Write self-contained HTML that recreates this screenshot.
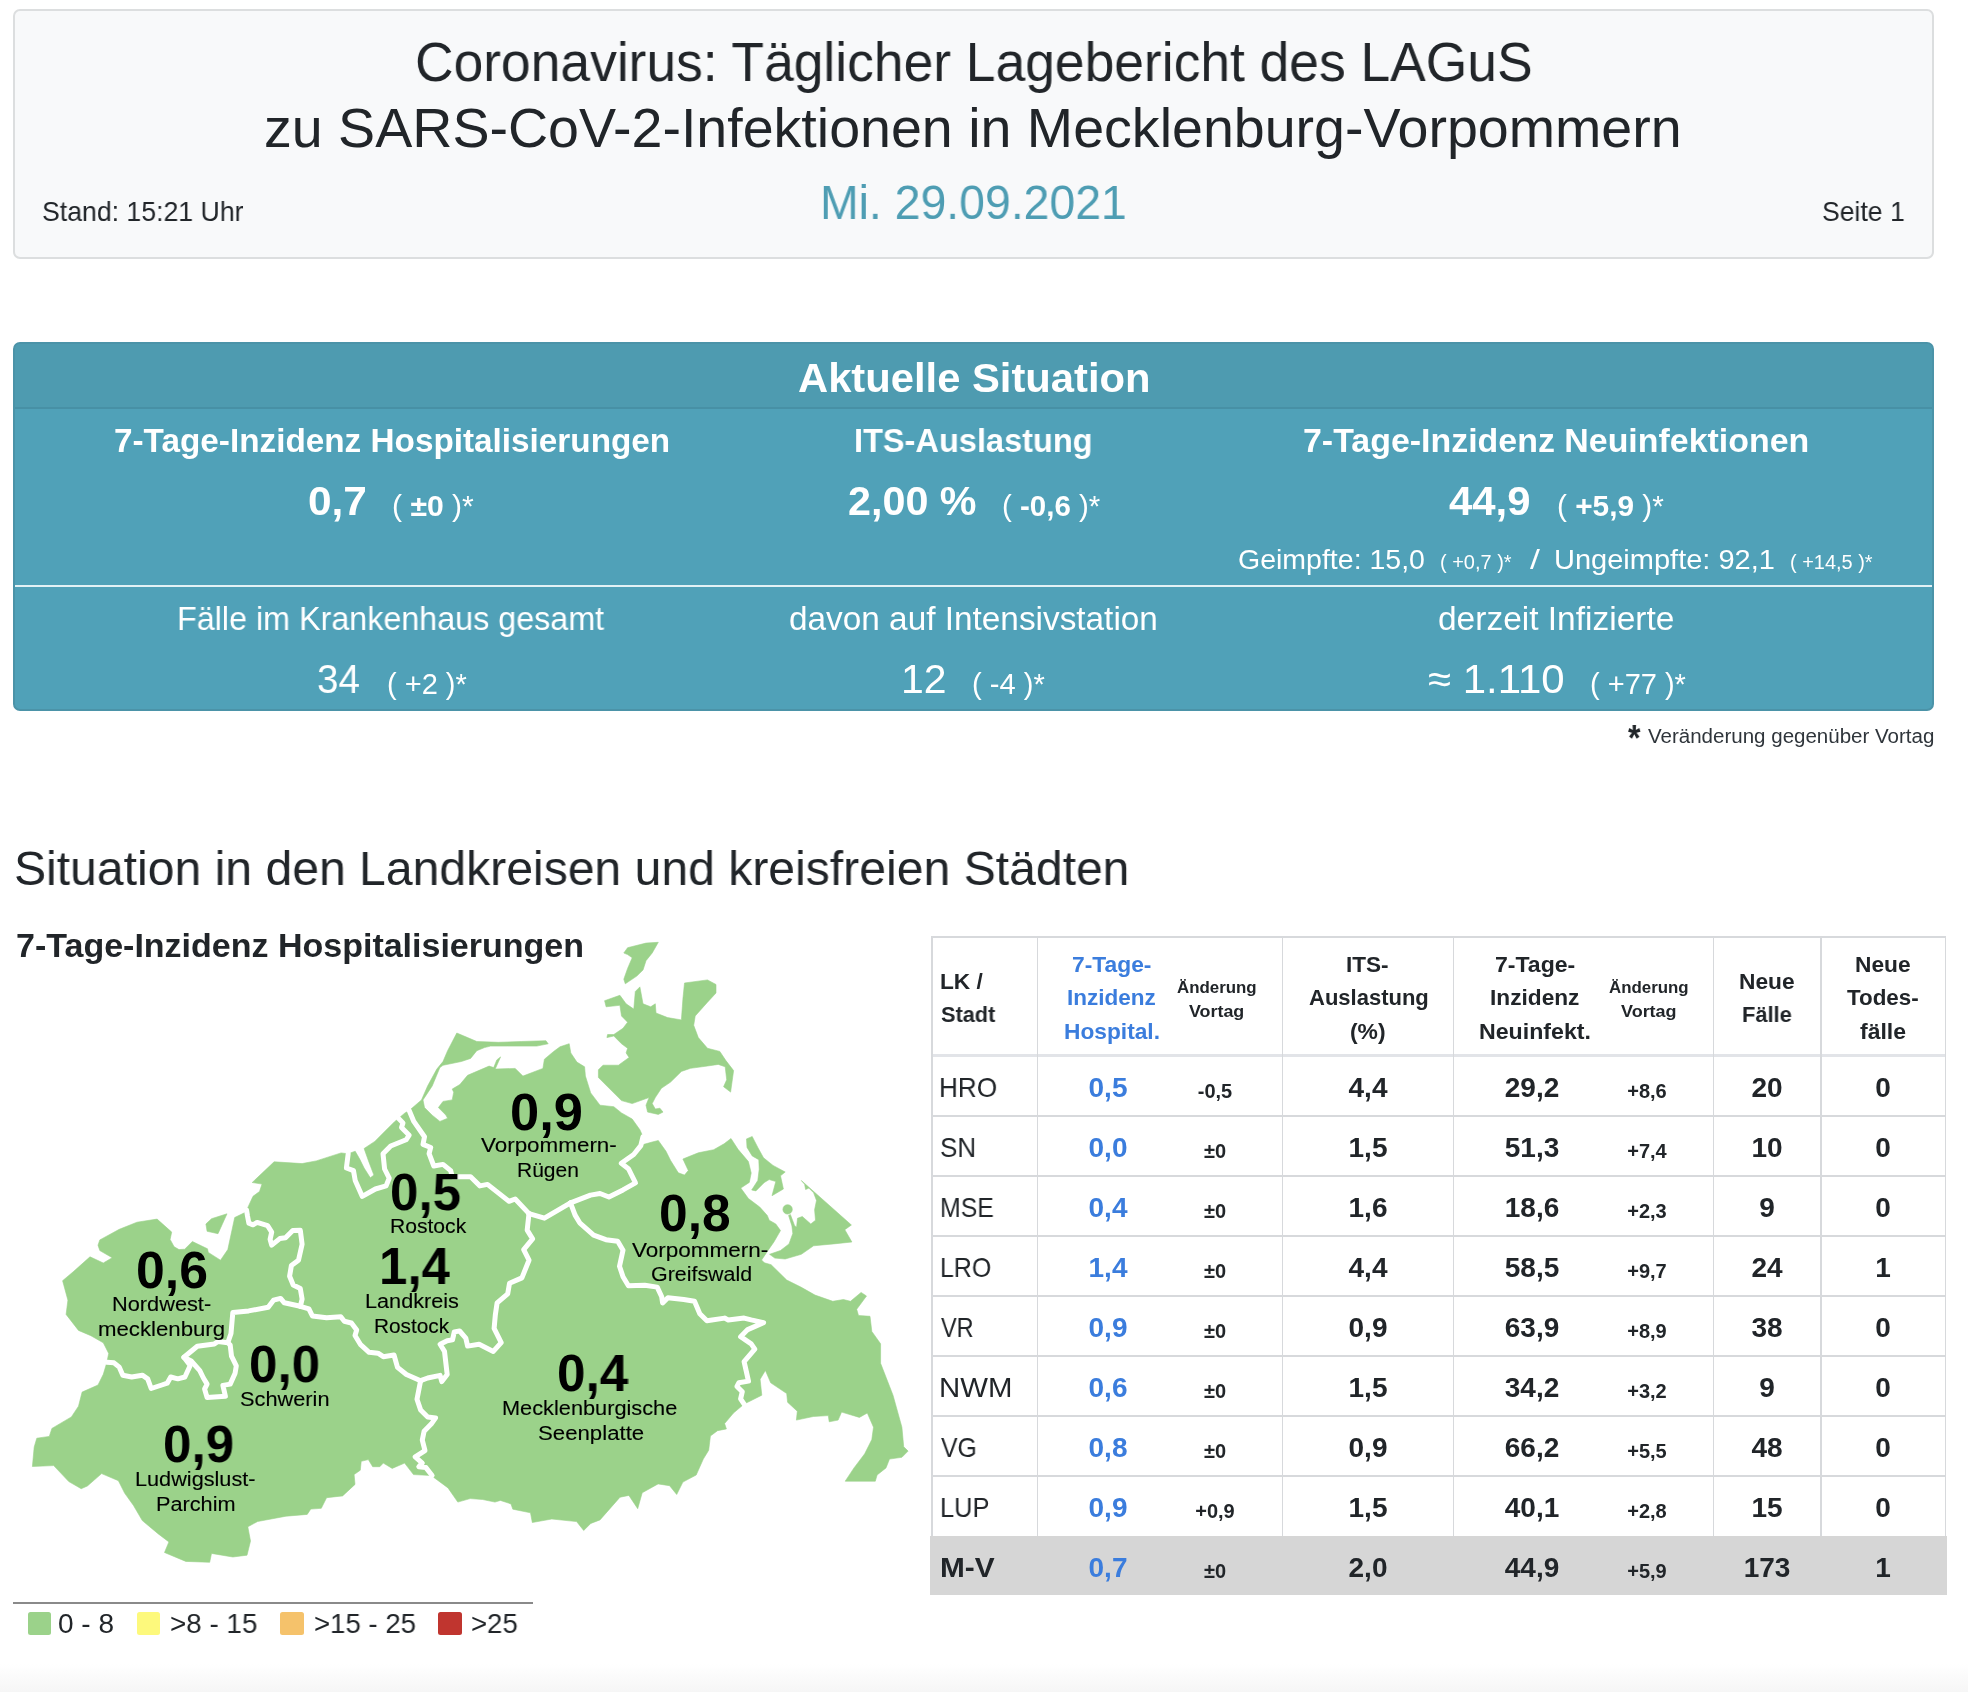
<!DOCTYPE html><html><head><meta charset="utf-8"><title>Lagebericht</title><style>

html,body{margin:0;padding:0;background:#fff;}
body{width:1968px;height:1692px;position:relative;overflow:hidden;font-family:"Liberation Sans",sans-serif;color:#212529;}
.t{position:absolute;white-space:nowrap;line-height:1;transform-origin:0 0;will-change:transform;}
.abs{position:absolute;}
.map{position:absolute;left:0;top:0;}
.hl{position:absolute;background:#d7d9dc;height:1.5px;}
.vl{position:absolute;background:#d7d9dc;width:1.5px;}
.sq{position:absolute;width:23.5px;height:23.5px;border-radius:2.5px;top:1611.5px;}
b{font-weight:700;}
.ml{-webkit-text-stroke:0.12px #000;}

</style></head><body>

<div class="abs" style="left:13px;top:9px;width:1917px;height:246px;border:2px solid #dcdedf;border-radius:7px;background:#f8f9fa;"></div>
<div class="abs" style="left:13px;top:342px;width:1917px;height:365px;border:2px solid #4b93a8;border-radius:7px;background:#50a1b8;overflow:hidden;">
  <div class="abs" style="left:0;top:0;width:1917px;height:63px;background:#4e9bb0;border-bottom:2px solid #4790a5;"></div>
  <div class="abs" style="left:0;top:241.2px;width:1917px;height:1.7px;background:#e2f1f5;"></div>
</div>
<div class="abs" style="left:13px;top:1602px;width:520px;height:1.6px;background:#8a8a8a;"></div>
<div class="sq" style="left:27.5px;background:#9bd28a;"></div>
<div class="sq" style="left:136.5px;background:#fdf97c;"></div>
<div class="sq" style="left:280px;background:#f5c26b;"></div>
<div class="sq" style="left:438px;background:#c0352f;"></div>
<div class="abs" style="left:0;top:1664px;width:1968px;height:28px;background:linear-gradient(#ffffff,#f6f6f6);"></div>
<div class="abs" style="left:930px;top:1536px;width:1016.6px;height:58.7px;background:#d6d6d6;"></div>
<div class="hl" style="left:931.25px;top:936.4px;width:1014.7px;"></div>
<div class="hl" style="left:931.25px;top:1053.8px;width:1014.7px;height:3.2px;background:#e2e4e8;"></div>
<div class="hl" style="left:931.25px;top:1115.25px;width:1014.7px;"></div>
<div class="hl" style="left:931.25px;top:1175.25px;width:1014.7px;"></div>
<div class="hl" style="left:931.25px;top:1235.35px;width:1014.7px;"></div>
<div class="hl" style="left:931.25px;top:1295.35px;width:1014.7px;"></div>
<div class="hl" style="left:931.25px;top:1355.35px;width:1014.7px;"></div>
<div class="hl" style="left:931.25px;top:1415.35px;width:1014.7px;"></div>
<div class="hl" style="left:931.25px;top:1475.35px;width:1014.7px;"></div>
<div class="vl" style="left:931.15px;top:936.4px;height:599.6px;"></div>
<div class="vl" style="left:1036.65px;top:936.4px;height:599.6px;"></div>
<div class="vl" style="left:1281.85px;top:936.4px;height:599.6px;"></div>
<div class="vl" style="left:1452.65px;top:936.4px;height:599.6px;"></div>
<div class="vl" style="left:1712.65px;top:936.4px;height:599.6px;"></div>
<div class="vl" style="left:1820.25px;top:936.4px;height:599.6px;"></div>
<div class="vl" style="left:1944.55px;top:936.4px;height:599.6px;"></div>
<svg class="map" width="1968" height="1692" viewBox="0 0 1968 1692"><g fill="#9bd28a" stroke="#9bd28a" stroke-width="0.6" stroke-linejoin="round"><polygon points="62.6,1280.7 73.2,1271.8 90.0,1256.8 103.3,1263.0 112.2,1257.7 99.8,1250.6 98.0,1245.2 99.8,1239.9 119.3,1229.3 137.0,1222.2 157.1,1219.1 171.7,1232.1 170.1,1239.4 174.1,1246.7 179.0,1249.6 184.7,1249.2 192.4,1241.5 207.5,1248.8 208.3,1252.4 220.5,1260.2 227.8,1249.6 234.7,1217.5 244.9,1212.6 248.1,1206.9 253.0,1196.3 259.5,1191.5 262.0,1184.1 252.2,1182.5 274.1,1161.8 302.1,1163.6 316.2,1160.9 341.1,1152.9 348.2,1153.8 355.2,1151.2 359.7,1159.1 364.1,1168.0 370.3,1177.8 373.9,1175.1 368.5,1160.9 364.1,1148.5 374.8,1141.4 385.4,1130.8 394.3,1121.9 404.9,1113.0 409.2,1110.6 421.5,1099.9 427.6,1086.0 436.8,1069.1 443.0,1061.5 447.6,1050.7 456.8,1033.0 467.6,1037.6 476.8,1041.5 498.3,1042.3 521.3,1041.5 545.9,1040.7 548.2,1043.8 536.7,1046.1 507.5,1046.1 490.6,1046.1 484.5,1047.6 476.8,1050.7 470.6,1058.4 461.4,1061.5 443.0,1065.3 439.9,1067.6 432.2,1086.0 423.0,1099.9 424.5,1107.6 432.2,1115.2 439.9,1121.4 447.6,1118.3 446.0,1115.2 438.4,1107.6 443.0,1101.4 452.2,1099.9 453.7,1092.2 452.2,1089.1 459.9,1084.5 467.6,1075.3 489.1,1066.1 493.7,1067.6 496.8,1059.9 500.6,1056.9 495.2,1069.1 515.2,1068.4 522.9,1076.1 542.9,1068.4 544.4,1059.2 553.6,1051.5 560.0,1046.8 569.2,1043.7 570.8,1052.9 576.9,1062.1 584.6,1066.8 585.4,1076.0 590.7,1092.9 600.0,1105.2 613.8,1106.7 621.5,1112.9 632.2,1119.0 639.9,1129.8 643.0,1136.7 641.4,1145.1 652.2,1142.0 658.3,1140.5 666.0,1151.3 670.6,1160.5 678.3,1172.8 684.5,1175.1 688.3,1170.5 682.9,1159.0 698.3,1152.8 713.7,1149.7 724.1,1143.8 731.0,1138.5 738.0,1149.3 748.4,1161.6 751.2,1173.0 749.3,1182.4 740.8,1188.1 748.4,1198.5 759.7,1207.0 767.3,1215.5 769.2,1220.2 775.8,1224.0 780.5,1230.6 773.9,1242.0 767.3,1251.4 761.6,1260.0 764.4,1262.8 771.1,1264.7 786.7,1280.0 800.9,1287.1 815.0,1295.1 832.8,1301.3 843.4,1299.5 850.5,1301.3 861.1,1292.4 866.5,1296.0 856.7,1309.3 858.5,1315.5 870.0,1316.3 871.8,1331.4 880.6,1343.8 880.6,1363.3 893.0,1395.2 901.9,1427.2 903.7,1446.7 908.1,1451.1 901.9,1457.3 889.5,1459.1 886.0,1467.9 877.1,1475.0 875.3,1481.2 845.2,1481.2 854.0,1467.9 864.7,1453.8 871.8,1439.6 873.5,1427.2 867.3,1413.0 859.4,1417.4 841.6,1412.1 838.1,1420.1 829.2,1421.8 828.3,1415.6 813.3,1416.5 796.4,1420.1 797.3,1411.2 787.6,1402.3 786.7,1393.5 770.7,1382.8 765.4,1370.4 760.1,1379.3 761.8,1395.2 747.7,1402.3 744.1,1404.1 733.5,1413.0 724.6,1423.6 726.4,1428.9 717.5,1430.7 710.4,1436.0 708.7,1450.2 703.3,1459.1 696.2,1475.0 682.9,1482.1 676.7,1494.5 669.6,1485.7 658.1,1483.9 642.2,1492.8 637.7,1508.7 628.9,1495.4 620.0,1497.2 600.0,1519.9 590.8,1523.4 583.7,1530.5 576.6,1521.6 551.8,1519.0 532.3,1522.5 530.5,1512.8 512.8,1509.2 511.0,1503.9 500.4,1500.4 495.0,1502.1 482.6,1499.5 470.2,1498.6 457.8,1502.1 448.0,1487.9 431.2,1475.5 413.5,1474.6 404.6,1463.1 392.2,1468.4 383.3,1463.1 379.8,1466.7 372.7,1466.7 368.3,1459.6 361.2,1461.3 360.3,1470.2 354.1,1474.6 355.0,1484.4 342.6,1495.9 326.6,1497.7 321.3,1508.3 310.8,1509.1 307.2,1514.4 286.0,1516.2 257.6,1521.5 247.8,1526.8 250.5,1541.0 247.0,1555.2 232.8,1557.0 211.5,1553.4 209.7,1562.3 185.8,1561.4 164.5,1552.5 168.9,1541.9 158.3,1533.9 142.3,1520.6 133.5,1505.5 124.6,1493.1 118.4,1480.7 101.6,1473.6 87.4,1486.0 81.2,1488.7 68.8,1481.6 53.7,1465.6 32.4,1466.5 34.2,1447.0 36.8,1438.2 49.3,1436.4 51.9,1428.4 71.4,1416.9 78.5,1406.2 82.1,1392.1 98.0,1385.0 103.3,1374.3 106.9,1362.3 108.7,1353.4 103.3,1342.8 90.9,1335.7 78.5,1330.4 66.1,1314.4 67.9,1300.2"/><polygon points="205.9,1224.0 211.5,1218.7 227.0,1213.8 218.0,1233.7 207.1,1231.3"/><polygon points="623.8,953.0 627.6,947.7 646.0,943.1 658.3,942.3 652.2,953.0 646.0,960.7 643.0,970.0 636.8,976.1 625.3,983.8 623.8,979.2 627.6,968.4 632.2,957.7 627.6,954.6"/><polygon points="604.6,1000.7 619.9,995.3 626.1,1003.8 633.8,1009.1 635.3,991.5 639.9,986.9 643.0,1003.8 650.7,1006.8 655.3,1003.8 656.0,1013.0 667.6,1017.6 681.4,1019.9 682.9,999.1 684.5,983.0 707.5,979.9 716.0,984.5 716.0,993.0 707.5,1002.2 695.2,1016.0 693.7,1025.3 698.3,1037.6 707.5,1048.3 719.8,1051.4 725.9,1060.6 733.6,1070.6 730.6,1092.1 723.6,1086.7 726.7,1079.8 725.2,1066.8 718.3,1064.4 707.5,1066.0 690.6,1068.3 681.4,1071.4 670.6,1082.1 661.4,1088.3 655.3,1097.5 652.2,1103.6 655.3,1109.0 659.9,1108.2 663.0,1112.1 658.3,1114.4 647.6,1112.1 646.0,1105.2 649.1,1097.5 632.2,1103.6 621.5,1100.6 598.4,1077.5 598.4,1069.8 603.0,1065.2 618.4,1065.2 629.1,1057.5 626.1,1052.9 627.6,1048.3 621.5,1043.7 613.8,1036.0 606.9,1037.6 607.6,1034.5 613.8,1034.5 623.0,1028.3 627.6,1022.2 621.5,1016.0 619.9,1005.3 606.1,1006.8"/><polygon points="746.5,1138.9 752.2,1136.5 757.8,1147.4 763.5,1157.8 773.0,1165.4 785.2,1172.0 780.5,1175.8 783.4,1189.0 772.0,1195.7 775.8,1181.5 769.2,1179.6 764.4,1182.4 755.9,1190.9 751.7,1190.0 757.8,1180.5 759.2,1169.2 758.8,1159.7 752.2,1155.9 747.0,1147.4"/><polygon points="801.3,1180.5 851.4,1225.0 844.8,1229.7 851.9,1242.0 833.5,1243.9 813.6,1245.8 801.3,1254.3 785.2,1259.0 774.8,1258.1 769.6,1254.3 780.5,1250.5 789.0,1243.9 792.8,1233.5 791.9,1225.9 788.6,1215.5 790.4,1214.6 794.7,1225.9 796.6,1226.9 797.5,1218.3 802.3,1216.5 810.8,1224.0 815.5,1220.2 814.6,1209.8 816.5,1200.4 813.6,1192.8 808.9,1188.1 805.6,1189.5 804.6,1184.3"/><circle cx="787.6" cy="1209.4" r="4.7"/></g><g fill="none" stroke="#fff" stroke-width="5.0" stroke-linejoin="round" stroke-linecap="round"><polyline points="246.5,1210.0 247.5,1216.0 248.9,1223.2 253.0,1224.8 257.1,1222.4 267.6,1225.6 271.7,1232.1 270.1,1239.4 271.7,1245.1 279.8,1238.6 285.5,1237.8 292.8,1230.5 300.3,1230.3 302.1,1244.3 298.5,1260.2 291.4,1265.5 289.6,1276.2 293.2,1285.0 300.3,1288.6 302.1,1299.2 300.3,1306.3"/><polyline points="106.9,1362.3 114.0,1362.8 119.3,1367.2 122.8,1375.2 131.7,1377.0 142.3,1375.2 147.7,1378.8 151.2,1388.5 161.8,1385.0 167.2,1383.2 170.7,1377.0 177.8,1378.8 184.9,1377.0 190.2,1365.5 183.9,1357.3"/><polyline points="227.8,1342.7 231.0,1333.5 232.8,1312.6 248.7,1310.9 268.2,1307.3 273.5,1300.2 280.6,1298.4 284.3,1302.8 300.3,1306.3"/><polyline points="300.3,1306.3 308.9,1308.9 312.4,1316.0 326.6,1317.7 340.8,1316.8 344.3,1321.3 351.4,1323.0 356.7,1330.1 355.0,1335.5 360.3,1344.3 369.1,1352.3 378.0,1353.2 383.3,1356.7 394.0,1355.0 397.5,1367.4 406.4,1374.5 420.6,1380.7"/><polyline points="420.6,1380.7 417.0,1399.3 420.6,1409.9 427.7,1417.0 435.6,1417.9 431.2,1424.1 424.1,1431.2 422.3,1440.1 425.0,1450.7 415.2,1456.9 422.3,1463.1 418.8,1466.7 425.9,1467.6 432.1,1475.5"/><polyline points="420.6,1380.7 427.7,1378.0 440.1,1375.4 441.8,1381.6 447.2,1374.5 444.5,1351.4 440.1,1344.3 447.2,1340.8 452.5,1339.9 454.3,1331.9 459.6,1331.0 465.8,1338.1 467.6,1346.1 479.1,1344.3 493.3,1351.4 501.2,1342.6 494.1,1328.4 495.3,1315.2 497.1,1302.8 507.7,1293.9 509.5,1283.3 521.9,1277.9 529.0,1260.2 523.7,1249.6 532.6,1238.9 527.2,1230.1 529.0,1213.6"/><polyline points="409.2,1110.6 413.8,1121.4 424.5,1136.8 423.0,1144.4 430.7,1147.5 429.1,1153.7 433.8,1166.0 443.0,1164.4 450.7,1170.6 452.2,1176.7 470.6,1176.7 479.9,1185.9 487.5,1184.4 509.0,1201.3 515.2,1199.0 529.0,1213.6"/><polyline points="529.0,1213.6 544.4,1218.2 570.5,1202.8"/><polyline points="570.5,1202.8 590.5,1195.1 600.0,1193.5 608.9,1197.0 623.0,1189.9 635.5,1182.8 628.4,1168.7 621.3,1163.3 633.7,1154.5 640.8,1145.6 643.0,1136.7"/><polyline points="570.5,1202.8 575.1,1215.1 579.7,1222.8 593.6,1235.1 605.9,1239.7 617.7,1241.3 623.0,1250.2 619.5,1266.2 623.0,1276.8 628.4,1285.7 644.8,1285.3 657.2,1287.1 661.7,1296.8 662.6,1303.0 667.9,1297.7 683.8,1299.5 694.5,1301.3 699.8,1313.7 706.9,1320.8 724.6,1318.1 728.2,1319.9 744.1,1318.1 751.2,1319.9 763.6,1322.6 747.7,1329.6 740.6,1336.7 751.2,1343.8 754.8,1349.1 744.1,1361.6 748.5,1381.1 738.8,1382.8 737.0,1386.4 742.3,1391.7 740.6,1398.8 744.1,1404.1"/><polyline points="398.4,1118.3 403.0,1122.9 401.5,1127.5 409.2,1135.2 406.1,1139.8 390.7,1146.0 383.0,1153.7 384.6,1169.0 389.2,1178.2 386.1,1185.9 375.4,1189.0 362.3,1196.4 355.2,1180.4 353.5,1170.7 346.4,1168.0 348.2,1153.8"/><polyline points="183.9,1357.3 197.3,1346.3 214.4,1343.9 218.0,1341.5 227.8,1342.7 230.2,1345.1 231.5,1356.1 236.3,1365.9 235.1,1373.2 230.2,1384.1 222.9,1385.4 225.4,1396.3 207.1,1397.6 204.6,1389.0 207.1,1384.1 203.4,1378.0 199.8,1370.7 191.2,1361.0 183.9,1357.3"/></g></svg>
<div class="t" style="left:415.1px;top:34.9px;font-size:55px;transform:scaleX(0.9705);">Coronavirus: Täglicher Lagebericht des LAGuS</div>
<div class="t" style="left:264.0px;top:100.9px;font-size:55px;transform:scaleX(1.0103);">zu SARS-CoV-2-Infektionen in Mecklenburg-Vorpommern</div>
<div class="t" style="left:820.1px;top:179.4px;font-size:47.5px;color:#4e9db3;transform:scaleX(0.9763);">Mi. 29.09.2021</div>
<div class="t" style="left:42.1px;top:196.9px;font-size:28.5px;transform:scaleX(0.9349);">Stand: 15:21 Uhr</div>
<div class="t" style="left:1822.1px;top:196.9px;font-size:28.5px;transform:scaleX(0.9323);">Seite 1</div>
<div class="t" style="left:798.0px;top:358.4px;font-size:40px;font-weight:700;color:#fff;transform:scaleX(1.0437);">Aktuelle Situation</div>
<div class="t" style="left:114.0px;top:423.6px;font-size:33px;font-weight:700;color:#fff;transform:scaleX(1.0089);">7-Tage-Inzidenz Hospitalisierungen</div>
<div class="t" style="left:854.0px;top:423.6px;font-size:33px;font-weight:700;color:#fff;transform:scaleX(0.9859);">ITS-Auslastung</div>
<div class="t" style="left:1303.0px;top:423.6px;font-size:33px;font-weight:700;color:#fff;transform:scaleX(1.0277);">7-Tage-Inzidenz Neuinfektionen</div>
<div class="t" style="left:307.7px;top:481.2px;font-size:40.5px;font-weight:700;color:#fff;transform:scaleX(1.0467);">0,7</div>
<div class="t" style="left:392.3px;top:492.0px;font-size:29px;color:#fff;transform:scaleX(1.0390);">( <b>±0</b> )*</div>
<div class="t" style="left:847.5px;top:481.2px;font-size:40.5px;font-weight:700;color:#fff;transform:scaleX(1.0195);">2,00 %</div>
<div class="t" style="left:1002.0px;top:492.0px;font-size:29px;color:#fff;transform:scaleX(1.0166);">( <b>-0,6</b> )*</div>
<div class="t" style="left:1449.0px;top:481.2px;font-size:40.5px;font-weight:700;color:#fff;transform:scaleX(1.0344);">44,9</div>
<div class="t" style="left:1556.5px;top:492.0px;font-size:29px;color:#fff;transform:scaleX(1.0274);">( <b>+5,9</b> )*</div>
<div class="t" style="left:1238.0px;top:545.2px;font-size:28.5px;color:#fff;">Geimpfte: 15,0</div>
<div class="t" style="left:1440.0px;top:552.8px;font-size:19.5px;color:#fff;transform:scaleX(1.0240);">( +0,7 )*</div>
<div class="t" style="left:1530.0px;top:545.2px;font-size:28.5px;color:#fff;transform:scaleX(1.2494);">/</div>
<div class="t" style="left:1554.0px;top:545.2px;font-size:28.5px;color:#fff;transform:scaleX(1.0177);">Ungeimpfte: 92,1</div>
<div class="t" style="left:1790.0px;top:552.8px;font-size:19.5px;color:#fff;transform:scaleX(1.0227);">( +14,5 )*</div>
<div class="t" style="left:177.0px;top:602.1px;font-size:33px;color:#fff;transform:scaleX(0.9784);">Fälle im Krankenhaus gesamt</div>
<div class="t" style="left:789.0px;top:602.1px;font-size:33px;color:#fff;transform:scaleX(1.0104);">davon auf Intensivstation</div>
<div class="t" style="left:1438.0px;top:602.1px;font-size:33px;color:#fff;transform:scaleX(1.0148);">derzeit Infizierte</div>
<div class="t" style="left:316.5px;top:659.2px;font-size:40.5px;color:#fff;transform:scaleX(0.9532);">34</div>
<div class="t" style="left:386.5px;top:670.0px;font-size:29px;color:#fff;">( +2 )*</div>
<div class="t" style="left:901.0px;top:659.2px;font-size:40.5px;color:#fff;transform:scaleX(1.0114);">12</div>
<div class="t" style="left:971.5px;top:670.0px;font-size:29px;color:#fff;transform:scaleX(1.0040);">( -4 )*</div>
<div class="t" style="left:1428.0px;top:659.2px;font-size:40.5px;color:#fff;transform:scaleX(1.0363);">≈ 1.110</div>
<div class="t" style="left:1589.5px;top:670.0px;font-size:29px;color:#fff;">( +77 )*</div>
<div class="t" style="left:1627.5px;top:719.7px;font-size:37px;font-weight:700;transform:scaleX(0.8662);">*</div>
<div class="t" style="left:1647.5px;top:726.5px;font-size:19.5px;color:#2f353b;transform:scaleX(1.0523);">Veränderung gegenüber Vortag</div>
<div class="t" style="left:13.5px;top:843.9px;font-size:48.5px;transform:scaleX(0.9921);">Situation in den Landkreisen und kreisfreien Städten</div>
<div class="t" style="left:15.5px;top:927.8px;font-size:34px;font-weight:700;">7-Tage-Inzidenz Hospitalisierungen</div>
<div class="t" style="left:58.4px;top:1609.7px;font-size:28px;">0 - 8</div>
<div class="t" style="left:170.0px;top:1609.7px;font-size:28px;transform:scaleX(0.9933);">&gt;8 - 15</div>
<div class="t" style="left:313.8px;top:1609.7px;font-size:28px;transform:scaleX(0.9847);">&gt;15 - 25</div>
<div class="t" style="left:471.4px;top:1609.7px;font-size:28px;transform:scaleX(0.9842);">&gt;25</div>
<div class="t" style="left:939.9px;top:970.7px;font-size:22px;font-weight:700;transform:scaleX(1.0309);">LK /</div>
<div class="t" style="left:940.9px;top:1003.6px;font-size:22px;font-weight:700;transform:scaleX(0.9861);">Stadt</div>
<div class="t" style="left:1072.4px;top:954.2px;font-size:22px;font-weight:700;color:#3b7ddd;transform:scaleX(1.0369);">7-Tage-</div>
<div class="t" style="left:1067.0px;top:987.2px;font-size:22px;font-weight:700;color:#3b7ddd;transform:scaleX(1.0235);">Inzidenz</div>
<div class="t" style="left:1064.2px;top:1020.6px;font-size:22px;font-weight:700;color:#3b7ddd;transform:scaleX(1.0331);">Hospital.</div>
<div class="t" style="left:1177.1px;top:979.7px;font-size:16px;font-weight:700;transform:scaleX(1.0539);">Änderung</div>
<div class="t" style="left:1189.3px;top:1004.0px;font-size:16px;font-weight:700;transform:scaleX(1.1168);">Vortag</div>
<div class="t" style="left:1345.8px;top:954.2px;font-size:22px;font-weight:700;transform:scaleX(1.0240);">ITS-</div>
<div class="t" style="left:1308.6px;top:987.2px;font-size:22px;font-weight:700;">Auslastung</div>
<div class="t" style="left:1350.0px;top:1020.6px;font-size:22px;font-weight:700;transform:scaleX(1.0397);">(%)</div>
<div class="t" style="left:1495.1px;top:954.2px;font-size:22px;font-weight:700;transform:scaleX(1.0474);">7-Tage-</div>
<div class="t" style="left:1489.8px;top:987.2px;font-size:22px;font-weight:700;transform:scaleX(1.0305);">Inzidenz</div>
<div class="t" style="left:1479.1px;top:1020.6px;font-size:22px;font-weight:700;transform:scaleX(1.0523);">Neuinfekt.</div>
<div class="t" style="left:1608.5px;top:979.7px;font-size:16px;font-weight:700;transform:scaleX(1.0539);">Änderung</div>
<div class="t" style="left:1620.5px;top:1004.0px;font-size:16px;font-weight:700;transform:scaleX(1.1230);">Vortag</div>
<div class="t" style="left:1739.0px;top:971.2px;font-size:22px;font-weight:700;transform:scaleX(1.0331);">Neue</div>
<div class="t" style="left:1742.2px;top:1004.2px;font-size:22px;font-weight:700;transform:scaleX(0.9917);">Fälle</div>
<div class="t" style="left:1855.1px;top:954.2px;font-size:22px;font-weight:700;transform:scaleX(1.0331);">Neue</div>
<div class="t" style="left:1847.0px;top:987.2px;font-size:22px;font-weight:700;transform:scaleX(1.0177);">Todes-</div>
<div class="t" style="left:1859.8px;top:1020.6px;font-size:22px;font-weight:700;transform:scaleX(1.0458);">fälle</div>
<div class="t" style="left:939.4px;top:1074.0px;font-size:27.5px;transform:scaleX(0.9517);">HRO</div>
<div class="t" style="left:958.0px;top:1073.6px;font-size:28px;font-weight:700;color:#3b7ddd;width:300px;text-align:center;">0,5</div>
<div class="t" style="left:1065.0px;top:1080.6px;font-size:20px;font-weight:700;width:300px;text-align:center;">-0,5</div>
<div class="t" style="left:1217.8px;top:1073.6px;font-size:28px;font-weight:700;width:300px;text-align:center;">4,4</div>
<div class="t" style="left:1381.6px;top:1073.6px;font-size:28px;font-weight:700;width:300px;text-align:center;">29,2</div>
<div class="t" style="left:1496.6px;top:1080.6px;font-size:20px;font-weight:700;width:300px;text-align:center;">+8,6</div>
<div class="t" style="left:1617.4px;top:1073.6px;font-size:28px;font-weight:700;width:300px;text-align:center;">20</div>
<div class="t" style="left:1732.7px;top:1073.6px;font-size:28px;font-weight:700;width:300px;text-align:center;">0</div>
<div class="t" style="left:940.4px;top:1134.0px;font-size:27.5px;transform:scaleX(0.9478);">SN</div>
<div class="t" style="left:958.0px;top:1133.6px;font-size:28px;font-weight:700;color:#3b7ddd;width:300px;text-align:center;">0,0</div>
<div class="t" style="left:1065.0px;top:1140.6px;font-size:20px;font-weight:700;width:300px;text-align:center;">±0</div>
<div class="t" style="left:1217.8px;top:1133.6px;font-size:28px;font-weight:700;width:300px;text-align:center;">1,5</div>
<div class="t" style="left:1381.6px;top:1133.6px;font-size:28px;font-weight:700;width:300px;text-align:center;">51,3</div>
<div class="t" style="left:1496.6px;top:1140.6px;font-size:20px;font-weight:700;width:300px;text-align:center;">+7,4</div>
<div class="t" style="left:1617.4px;top:1133.6px;font-size:28px;font-weight:700;width:300px;text-align:center;">10</div>
<div class="t" style="left:1732.7px;top:1133.6px;font-size:28px;font-weight:700;width:300px;text-align:center;">0</div>
<div class="t" style="left:939.5px;top:1194.0px;font-size:27.5px;transform:scaleX(0.9030);">MSE</div>
<div class="t" style="left:958.0px;top:1193.6px;font-size:28px;font-weight:700;color:#3b7ddd;width:300px;text-align:center;">0,4</div>
<div class="t" style="left:1065.0px;top:1200.6px;font-size:20px;font-weight:700;width:300px;text-align:center;">±0</div>
<div class="t" style="left:1217.8px;top:1193.6px;font-size:28px;font-weight:700;width:300px;text-align:center;">1,6</div>
<div class="t" style="left:1381.6px;top:1193.6px;font-size:28px;font-weight:700;width:300px;text-align:center;">18,6</div>
<div class="t" style="left:1496.6px;top:1200.6px;font-size:20px;font-weight:700;width:300px;text-align:center;">+2,3</div>
<div class="t" style="left:1617.4px;top:1193.6px;font-size:28px;font-weight:700;width:300px;text-align:center;">9</div>
<div class="t" style="left:1732.7px;top:1193.6px;font-size:28px;font-weight:700;width:300px;text-align:center;">0</div>
<div class="t" style="left:939.5px;top:1254.2px;font-size:27.5px;transform:scaleX(0.9048);">LRO</div>
<div class="t" style="left:958.0px;top:1253.8px;font-size:28px;font-weight:700;color:#3b7ddd;width:300px;text-align:center;">1,4</div>
<div class="t" style="left:1065.0px;top:1260.8px;font-size:20px;font-weight:700;width:300px;text-align:center;">±0</div>
<div class="t" style="left:1217.8px;top:1253.8px;font-size:28px;font-weight:700;width:300px;text-align:center;">4,4</div>
<div class="t" style="left:1381.6px;top:1253.8px;font-size:28px;font-weight:700;width:300px;text-align:center;">58,5</div>
<div class="t" style="left:1496.6px;top:1260.8px;font-size:20px;font-weight:700;width:300px;text-align:center;">+9,7</div>
<div class="t" style="left:1617.4px;top:1253.8px;font-size:28px;font-weight:700;width:300px;text-align:center;">24</div>
<div class="t" style="left:1732.7px;top:1253.8px;font-size:28px;font-weight:700;width:300px;text-align:center;">1</div>
<div class="t" style="left:941.3px;top:1314.3px;font-size:27.5px;transform:scaleX(0.8542);">VR</div>
<div class="t" style="left:958.0px;top:1313.9px;font-size:28px;font-weight:700;color:#3b7ddd;width:300px;text-align:center;">0,9</div>
<div class="t" style="left:1065.0px;top:1320.9px;font-size:20px;font-weight:700;width:300px;text-align:center;">±0</div>
<div class="t" style="left:1217.8px;top:1313.9px;font-size:28px;font-weight:700;width:300px;text-align:center;">0,9</div>
<div class="t" style="left:1381.6px;top:1313.9px;font-size:28px;font-weight:700;width:300px;text-align:center;">63,9</div>
<div class="t" style="left:1496.6px;top:1320.9px;font-size:20px;font-weight:700;width:300px;text-align:center;">+8,9</div>
<div class="t" style="left:1617.4px;top:1313.9px;font-size:28px;font-weight:700;width:300px;text-align:center;">38</div>
<div class="t" style="left:1732.7px;top:1313.9px;font-size:28px;font-weight:700;width:300px;text-align:center;">0</div>
<div class="t" style="left:939.2px;top:1374.3px;font-size:27.5px;transform:scaleX(1.0675);">NWM</div>
<div class="t" style="left:958.0px;top:1373.9px;font-size:28px;font-weight:700;color:#3b7ddd;width:300px;text-align:center;">0,6</div>
<div class="t" style="left:1065.0px;top:1380.9px;font-size:20px;font-weight:700;width:300px;text-align:center;">±0</div>
<div class="t" style="left:1217.8px;top:1373.9px;font-size:28px;font-weight:700;width:300px;text-align:center;">1,5</div>
<div class="t" style="left:1381.6px;top:1373.9px;font-size:28px;font-weight:700;width:300px;text-align:center;">34,2</div>
<div class="t" style="left:1496.6px;top:1380.9px;font-size:20px;font-weight:700;width:300px;text-align:center;">+3,2</div>
<div class="t" style="left:1617.4px;top:1373.9px;font-size:28px;font-weight:700;width:300px;text-align:center;">9</div>
<div class="t" style="left:1732.7px;top:1373.9px;font-size:28px;font-weight:700;width:300px;text-align:center;">0</div>
<div class="t" style="left:941.3px;top:1434.3px;font-size:27.5px;transform:scaleX(0.9024);">VG</div>
<div class="t" style="left:958.0px;top:1433.9px;font-size:28px;font-weight:700;color:#3b7ddd;width:300px;text-align:center;">0,8</div>
<div class="t" style="left:1065.0px;top:1440.9px;font-size:20px;font-weight:700;width:300px;text-align:center;">±0</div>
<div class="t" style="left:1217.8px;top:1433.9px;font-size:28px;font-weight:700;width:300px;text-align:center;">0,9</div>
<div class="t" style="left:1381.6px;top:1433.9px;font-size:28px;font-weight:700;width:300px;text-align:center;">66,2</div>
<div class="t" style="left:1496.6px;top:1440.9px;font-size:20px;font-weight:700;width:300px;text-align:center;">+5,5</div>
<div class="t" style="left:1617.4px;top:1433.9px;font-size:28px;font-weight:700;width:300px;text-align:center;">48</div>
<div class="t" style="left:1732.7px;top:1433.9px;font-size:28px;font-weight:700;width:300px;text-align:center;">0</div>
<div class="t" style="left:939.5px;top:1494.4px;font-size:27.5px;transform:scaleX(0.9231);">LUP</div>
<div class="t" style="left:958.0px;top:1494.0px;font-size:28px;font-weight:700;color:#3b7ddd;width:300px;text-align:center;">0,9</div>
<div class="t" style="left:1065.0px;top:1501.0px;font-size:20px;font-weight:700;width:300px;text-align:center;">+0,9</div>
<div class="t" style="left:1217.8px;top:1494.0px;font-size:28px;font-weight:700;width:300px;text-align:center;">1,5</div>
<div class="t" style="left:1381.6px;top:1494.0px;font-size:28px;font-weight:700;width:300px;text-align:center;">40,1</div>
<div class="t" style="left:1496.6px;top:1501.0px;font-size:20px;font-weight:700;width:300px;text-align:center;">+2,8</div>
<div class="t" style="left:1617.4px;top:1494.0px;font-size:28px;font-weight:700;width:300px;text-align:center;">15</div>
<div class="t" style="left:1732.7px;top:1494.0px;font-size:28px;font-weight:700;width:300px;text-align:center;">0</div>
<div class="t" style="left:940.2px;top:1554.2px;font-size:27.5px;font-weight:700;transform:scaleX(1.0843);">M-V</div>
<div class="t" style="left:958.0px;top:1553.8px;font-size:28px;font-weight:700;color:#3b7ddd;width:300px;text-align:center;">0,7</div>
<div class="t" style="left:1065.0px;top:1560.8px;font-size:20px;font-weight:700;width:300px;text-align:center;">±0</div>
<div class="t" style="left:1217.8px;top:1553.8px;font-size:28px;font-weight:700;width:300px;text-align:center;">2,0</div>
<div class="t" style="left:1381.6px;top:1553.8px;font-size:28px;font-weight:700;width:300px;text-align:center;">44,9</div>
<div class="t" style="left:1496.6px;top:1560.8px;font-size:20px;font-weight:700;width:300px;text-align:center;">+5,9</div>
<div class="t" style="left:1617.4px;top:1553.8px;font-size:28px;font-weight:700;width:300px;text-align:center;">173</div>
<div class="t" style="left:1732.7px;top:1553.8px;font-size:28px;font-weight:700;width:300px;text-align:center;">1</div>
<div class="t" style="left:510.1px;top:1087.3px;font-size:51.5px;font-weight:700;color:#000;transform:scaleX(1.0184);">0,9</div>
<div class="t ml" style="left:480.6px;top:1136.2px;font-size:19.5px;color:#000;transform:scaleX(1.1494);">Vorpommern-</div>
<div class="t ml" style="left:517.2px;top:1160.8px;font-size:19.5px;color:#000;transform:scaleX(1.0769);">Rügen</div>
<div class="t" style="left:389.6px;top:1167.3px;font-size:51.5px;font-weight:700;color:#000;transform:scaleX(0.9905);">0,5</div>
<div class="t ml" style="left:389.6px;top:1217.4px;font-size:19.5px;color:#000;transform:scaleX(1.0817);">Rostock</div>
<div class="t" style="left:378.8px;top:1240.8px;font-size:51.5px;font-weight:700;color:#000;transform:scaleX(0.9905);">1,4</div>
<div class="t ml" style="left:364.8px;top:1292.2px;font-size:19.5px;color:#000;transform:scaleX(1.1108);">Landkreis</div>
<div class="t ml" style="left:373.7px;top:1317.0px;font-size:19.5px;color:#000;transform:scaleX(1.0674);">Rostock</div>
<div class="t" style="left:659.2px;top:1188.3px;font-size:51.5px;font-weight:700;color:#000;">0,8</div>
<div class="t ml" style="left:631.9px;top:1240.5px;font-size:19.5px;color:#000;transform:scaleX(1.1536);">Vorpommern-</div>
<div class="t ml" style="left:650.5px;top:1264.5px;font-size:19.5px;color:#000;transform:scaleX(1.0977);">Greifswald</div>
<div class="t" style="left:135.9px;top:1244.5px;font-size:51.5px;font-weight:700;color:#000;transform:scaleX(1.0051);">0,6</div>
<div class="t ml" style="left:112.0px;top:1295.0px;font-size:19.5px;color:#000;transform:scaleX(1.1160);">Nordwest-</div>
<div class="t ml" style="left:97.8px;top:1319.8px;font-size:19.5px;color:#000;transform:scaleX(1.1385);">mecklenburg</div>
<div class="t" style="left:248.6px;top:1339.3px;font-size:51.5px;font-weight:700;color:#000;transform:scaleX(0.9919);">0,0</div>
<div class="t ml" style="left:239.9px;top:1389.6px;font-size:19.5px;color:#000;transform:scaleX(1.1165);">Schwerin</div>
<div class="t" style="left:557.2px;top:1348.0px;font-size:51.5px;font-weight:700;color:#000;transform:scaleX(0.9935);">0,4</div>
<div class="t ml" style="left:502.4px;top:1399.3px;font-size:19.5px;color:#000;transform:scaleX(1.1151);">Mecklenburgische</div>
<div class="t ml" style="left:537.5px;top:1424.2px;font-size:19.5px;color:#000;transform:scaleX(1.1385);">Seenplatte</div>
<div class="t" style="left:162.5px;top:1418.8px;font-size:51.5px;font-weight:700;color:#000;transform:scaleX(0.9919);">0,9</div>
<div class="t ml" style="left:135.0px;top:1470.1px;font-size:19.5px;color:#000;transform:scaleX(1.1114);">Ludwigslust-</div>
<div class="t ml" style="left:156.3px;top:1495.0px;font-size:19.5px;color:#000;transform:scaleX(1.1128);">Parchim</div>
</body></html>
